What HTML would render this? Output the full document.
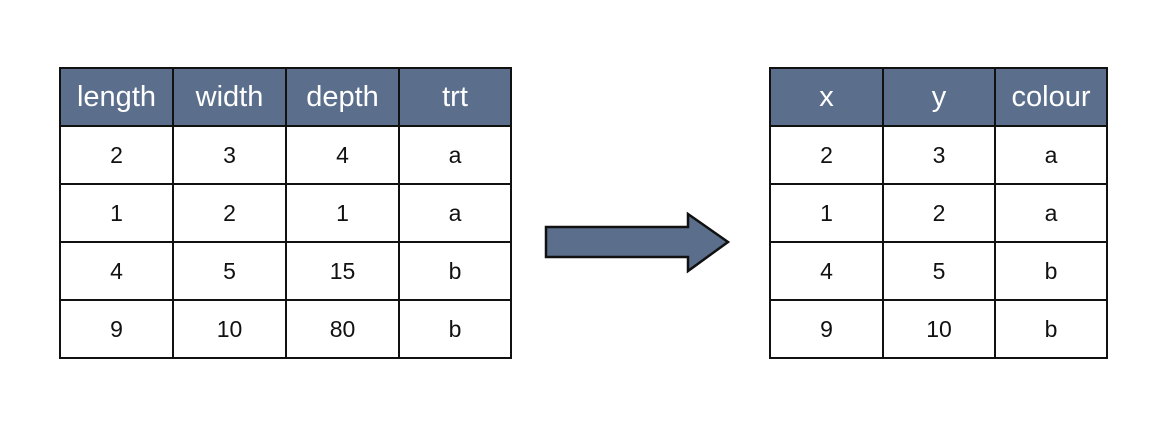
<!DOCTYPE html>
<html><head><meta charset="utf-8"><style>
body{margin:0;width:1159px;height:427px;background:#fff;position:relative;overflow:hidden;font-family:"Liberation Sans",sans-serif}
table{position:absolute;border-collapse:collapse;table-layout:fixed}
td,th{border:2.5px solid #111;text-align:center;padding:0;font-size:23px;color:#111;font-weight:normal}
th{background:#5b6f8d;color:#fff;font-size:29px}
</style></head><body>
<table style="left:59px;top:67px;width:451px">
<colgroup><col style="width:113px"><col style="width:113px"><col style="width:113px"><col style="width:112px"></colgroup>
<tr style="height:58px"><th>length</th><th>width</th><th>depth</th><th>trt</th></tr>
<tr style="height:58px"><td>2</td><td>3</td><td>4</td><td>a</td></tr>
<tr style="height:58px"><td>1</td><td>2</td><td>1</td><td>a</td></tr>
<tr style="height:58px"><td>4</td><td>5</td><td>15</td><td>b</td></tr>
<tr style="height:58px"><td>9</td><td>10</td><td>80</td><td>b</td></tr>
</table>
<svg style="position:absolute;left:0;top:0" width="1159" height="427">
<polygon points="546,227 688,227 688,214 728,242 688,271 688,257 546,257" fill="#5b6f8d" stroke="#111" stroke-width="2.5"/>
</svg>
<table style="left:769px;top:67px;width:337px">
<colgroup><col style="width:113px"><col style="width:112px"><col style="width:112px"></colgroup>
<tr style="height:58px"><th>x</th><th>y</th><th>colour</th></tr>
<tr style="height:58px"><td>2</td><td>3</td><td>a</td></tr>
<tr style="height:58px"><td>1</td><td>2</td><td>a</td></tr>
<tr style="height:58px"><td>4</td><td>5</td><td>b</td></tr>
<tr style="height:58px"><td>9</td><td>10</td><td>b</td></tr>
</table>
</body></html>
